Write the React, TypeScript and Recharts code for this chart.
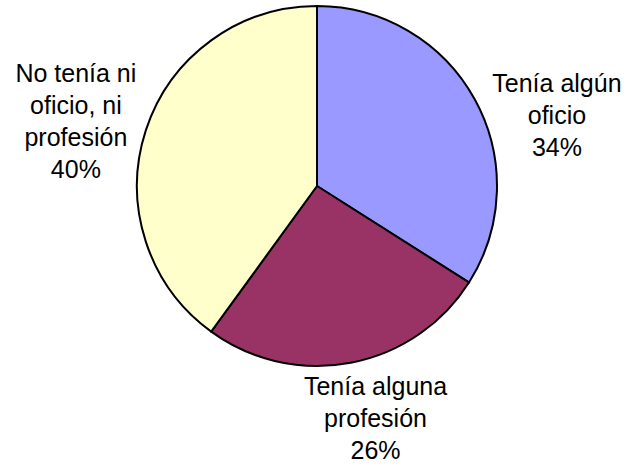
import { PieChart, Pie, Cell } from 'recharts'

const categories = ['Tenía algún oficio', 'Tenía alguna profesión', 'No tenía ni oficio, ni profesión']
const labelLines = [
  ['Tenía algún', 'oficio'],
  ['Tenía alguna', 'profesión'],
  ['No tenía ni', 'oficio, ni', 'profesión'],
]
const shares = [34, 26, 40]
const colors = ['#9999FF', '#993366', '#FFFFCC']

const data = categories.map((name, i) => ({ name, value: shares[i] }))

// labels sit roughly on a ring outside the pie, nudged like the excel "best fit"
const nudges = [
  { dx: 27, dy: 23 },
  { dx: 13, dy: -30 },
  { dx: -10, dy: -29 },
]
const LINE_H = 32
const RAD = Math.PI / 180

function SliceLabel(props: any) {
  const { cx, cy, outerRadius, midAngle, index, value } = props
  const r = outerRadius * 1.35
  const x = cx + r * Math.cos(-midAngle * RAD) + nudges[index].dx
  const y = cy + r * Math.sin(-midAngle * RAD) + nudges[index].dy
  const lines = [...labelLines[index], `${value}%`]
  return (
    <text
      x={x}
      y={y}
      textAnchor="middle"
      fill="#000"
      fontSize={25}
      fontFamily="'Liberation Sans', Arial, sans-serif"
    >
      {lines.map((l, i) => (
        <tspan key={i} x={x} y={y + i * LINE_H}>
          {l}
        </tspan>
      ))}
    </text>
  )
}

export default function App() {
  return (
    <div style={{ position: 'absolute', left: 0, top: 0, width: 636, height: 468, background: '#fff' }}>
      <PieChart width={636} height={468} margin={{ top: 0, right: 0, bottom: 0, left: 0 }}>
        <Pie
          data={data}
          dataKey="value"
          cx={317}
          cy={186}
          outerRadius={180}
          startAngle={90}
          endAngle={-270}
          stroke="#000"
          strokeWidth={2}
          label={SliceLabel}
          labelLine={false}
          isAnimationActive={false}
        >
          {data.map((d, i) => (
            <Cell key={d.name} fill={colors[i]} />
          ))}
        </Pie>
      </PieChart>
    </div>
  )
}
